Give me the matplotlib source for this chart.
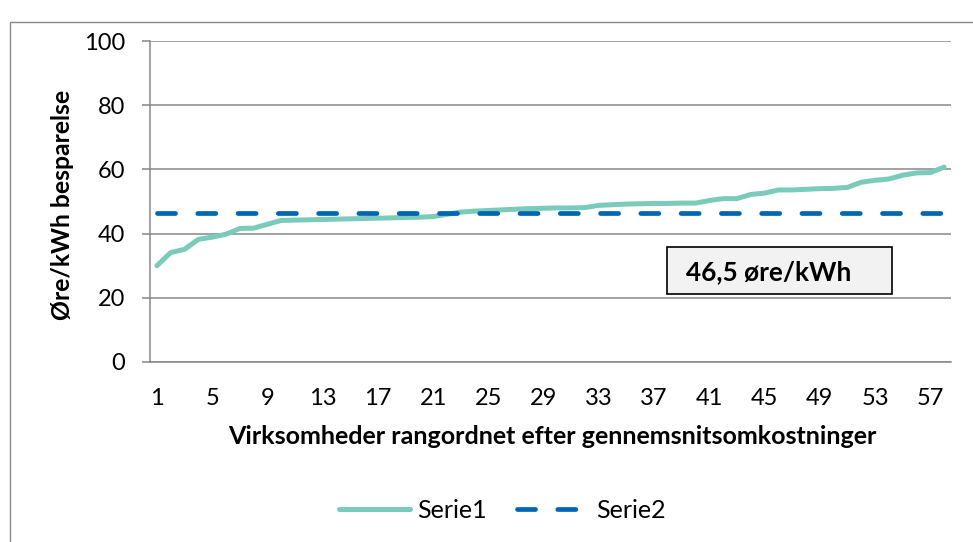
import matplotlib
matplotlib.use("Agg")
import matplotlib.pyplot as plt
from matplotlib.patches import Rectangle
import numpy as np

# data
categories = np.arange(1, 59)
serie1 = [30.0, 34.1, 35.1, 38.2, 38.9, 39.8, 41.6, 41.7, 42.9, 44.1,
          44.2, 44.3, 44.4, 44.5, 44.6, 44.7, 44.8, 44.9, 45.0, 45.1,
          45.3, 46.0, 46.7, 47.0, 47.2, 47.4, 47.6, 47.8, 47.9, 48.0,
          48.0, 48.1, 48.8, 49.0, 49.2, 49.3, 49.4, 49.4, 49.5, 49.5,
          50.3, 50.9, 50.9, 52.2, 52.6, 53.6, 53.6, 53.8, 54.0, 54.1,
          54.4, 56.0, 56.6, 57.0, 58.2, 58.9, 59.0, 60.7]
serie2 = [46.5] * 58
x_ticks = list(range(1, 59, 4))
y_ticks = [0, 20, 40, 60, 80, 100]
box_label = "46,5 øre/kWh"

plt.rcParams['font.family'] = ['Lato', 'DejaVu Sans']
plt.rcParams['lines.scale_dashes'] = False

W, H = 973, 542
dpi = 100
fig = plt.figure(figsize=(W / dpi, H / dpi), dpi=dpi, facecolor='white')

def fx(px):
    return px / W

def fy(py):
    return 1 - py / H

############## outer chart border ##############
fig.patches.append(Rectangle((fx(10), -0.05), 1.2, fy(22) + 0.05, transform=fig.transFigure,
                             fill=False, edgecolor='#898989', lw=1.0))
################################################

ax = fig.add_axes([fx(150), fy(362), fx(951 - 150), (362 - 41) / H])
grid_c = '#878787'

ax.plot(categories, serie1, color='#7acbb9', lw=3.6, solid_capstyle='round',
        solid_joinstyle='round', label='Serie1', zorder=3)
ax.plot(categories, serie2, color='#0065b3', lw=3.4, dashes=(13.0, 16.0),
        dash_capstyle='round', label='Serie2', zorder=4)

ax.set_xlim(0.5, 58.5)
ax.set_ylim(0, 100)
ax.set_yticks(y_ticks)
ax.set_xticks(x_ticks)
ax.grid(axis='y', color=grid_c, lw=1.1)
ax.set_axisbelow(True)
for s in ['top', 'right']:
    ax.spines[s].set_visible(False)
ax.spines['left'].set_color(grid_c)
ax.spines['bottom'].set_color(grid_c)
ax.spines['left'].set_linewidth(1.1)
ax.spines['bottom'].set_linewidth(1.1)
ax.tick_params(axis='y', length=6, width=1.1, color=grid_c, pad=12, labelsize=17)
ax.tick_params(axis='x', length=0, pad=19, labelsize=17)

fig.text(fx(552), fy(437), "Virksomheder rangordnet efter gennemsnitsomkostninger",
         ha='center', va='center', fontsize=18, fontweight='bold')
fig.text(fx(62), fy(205), "Øre/kWh besparelse", ha='center', va='center',
         rotation=90, fontsize=17.8, fontweight='bold')

############## value box ##############
fig.patches.append(Rectangle((fx(667), fy(294)), fx(892 - 667), (294 - 247) / H,
                             transform=fig.transFigure, facecolor='#f2f2f2',
                             edgecolor='black', lw=1.2, zorder=5))
fig.text(fx(686), fy(272), box_label, ha='left', va='center', fontsize=18.8,
         fontweight='bold', zorder=6)
#######################################

fig.legend(loc='center', bbox_to_anchor=(fx(502), fy(510)), ncol=2, frameon=False,
           fontsize=18, handlelength=2.85, handletextpad=0.3, columnspacing=1.2)

fig.savefig('out.png', dpi=dpi)
